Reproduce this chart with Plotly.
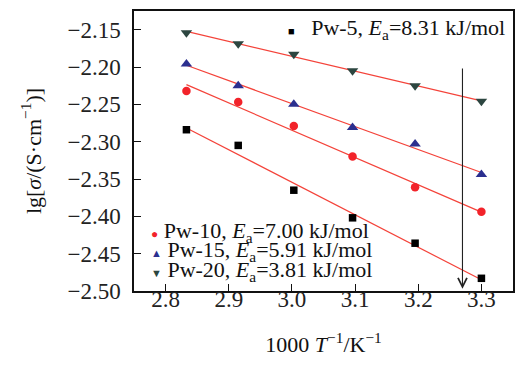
import numpy as np
import plotly.graph_objects as go

# ---- data ----
x_vals = [2.833, 2.915, 3.003, 3.096, 3.195, 3.300]   # 1000/T (K^-1)
pw5 = [-2.284, -2.305, -2.365, -2.402, -2.436, -2.483]
pw10 = [-2.232, -2.247, -2.279, -2.320, -2.361, -2.394]
pw15 = [-2.196, -2.225, -2.250, -2.281, -2.303, -2.344]
pw20 = [-2.154, -2.169, -2.183, -2.205, -2.225, -2.246]
series_names = ["Pw-5", "Pw-10", "Pw-15", "Pw-20"]
ea_values = ["8.31", "7.00", "5.91", "3.81"]
y_ticks = [-2.15, -2.20, -2.25, -2.30, -2.35, -2.40, -2.45, -2.50]
x_ticks = [2.8, 2.9, 3.0, 3.1, 3.2, 3.3]

series = [pw5, pw10, pw15, pw20]
symbols = ["square", "circle", "triangle-up", "triangle-down"]
marker_sizes = [7.5, 8.5, 10, 10]
colors = ["#000000", "#f2232a", "#2b2f8f", "#2c4640"]
glyphs = ["\u25A0", "\u25CF", "\u25B2", "\u25BC"]
glyph_sizes = [11, 12, 11, 11]
glyph_gaps = ["\u00a0\u00a0 ", " ", " ", " "]
fit_color = "#f4433a"
FONT = "Liberation Serif"
FS = 22
TFS = 23
X_RANGE = [2.75, 3.35]

fig = go.Figure()
xa = np.array(x_vals)
# fitted lines on the main axes
for name, ys in zip(series_names, series):
    k, b = np.polyfit(xa, np.array(ys), 1)
    xf = [x_vals[0], x_vals[-1]]
    fig.add_trace(go.Scatter(x=xf, y=[k * v + b for v in xf], mode="lines",
                             line=dict(color=fit_color, width=1.2),
                             showlegend=False, hoverinfo="skip"))
# data markers on the twin x-axis (same range) so they sit above the lines
for name, ys, sym, col, ms in zip(series_names, series, symbols, colors, marker_sizes):
    fig.add_trace(go.Scatter(x=x_vals, y=ys, mode="markers", name=name,
                             xaxis="x2", yaxis="y",
                             marker=dict(symbol=sym, color=col, size=ms),
                             showlegend=False))

# arrow
fig.add_annotation(x=3.27, y=-2.497, ax=3.27, ay=-2.200, xref="x", yref="y",
                   axref="x", ayref="y", showarrow=True, arrowhead=5,
                   arrowsize=1.6, arrowwidth=1.1, arrowcolor="#222222", text="",
                   standoff=0, startstandoff=0)

# legend-like labels
legend_pos = [(0.400, 0.936), (0.040, 0.211), (0.040, 0.143), (0.040, 0.071)]
for i, (name, ea) in enumerate(zip(series_names, ea_values)):
    px, py = legend_pos[i]
    txt = (f"<span style='font-size:{glyph_sizes[i]}px;color:{colors[i]}'>{glyphs[i]}</span>{glyph_gaps[i]}"
           f"{name}, <i>E</i><sub>a</sub>={ea} kJ/mol")
    fig.add_annotation(x=px, y=py, xref="paper", yref="paper", text=txt,
                       showarrow=False, xanchor="left", yanchor="middle",
                       font=dict(family=FONT, size=FS, color="#111111"))

axis_common = dict(showline=True, linecolor="#111111", linewidth=1.5, mirror=True,
                   ticks="inside", ticklen=7, tickwidth=1.2, tickcolor="#111111",
                   showgrid=False, zeroline=False, automargin=False,
                   tickfont=dict(family=FONT, size=TFS, color="#222222"))
fig.update_layout(
    xaxis=dict(range=X_RANGE, tickvals=x_ticks, showticklabels=False,
               title=dict(text="1000 <i>T</i><sup>\u22121</sup>/K<sup>\u22121</sup>",
                          font=dict(family=FONT, size=FS, color="#111111"), standoff=47),
               **axis_common),
    yaxis=dict(range=[-2.50, -2.125], tickvals=y_ticks, tickformat=".2f",
               ticklabelstandoff=7,
               title=dict(text="lg[<i>\u03c3</i>/(S\u00b7cm<sup>\u22121</sup>)]",
                          font=dict(family=FONT, size=FS, color="#111111"), standoff=20),
               **axis_common),
    # tick labels of the bottom axis, drawn by a label-only twin axis sitting slightly higher
    xaxis2=dict(range=X_RANGE, tickvals=x_ticks, tickformat=".1f",
                overlaying="x", anchor="free", position=0.03, side="bottom",
                showline=False, ticks="", showgrid=False, zeroline=False,
                automargin=False,
                tickfont=dict(family=FONT, size=TFS, color="#222222")),
)
# page body has an 8px margin: figure is sized/offset so the plot area lands
# at the reference position within the 529x365 window
fig.update_layout(width=513, height=349, margin=dict(l=126, r=8, t=3, b=66),
                  paper_bgcolor="white", plot_bgcolor="white", showlegend=False,
                  font=dict(family=FONT))
fig.write_html("out.html")
